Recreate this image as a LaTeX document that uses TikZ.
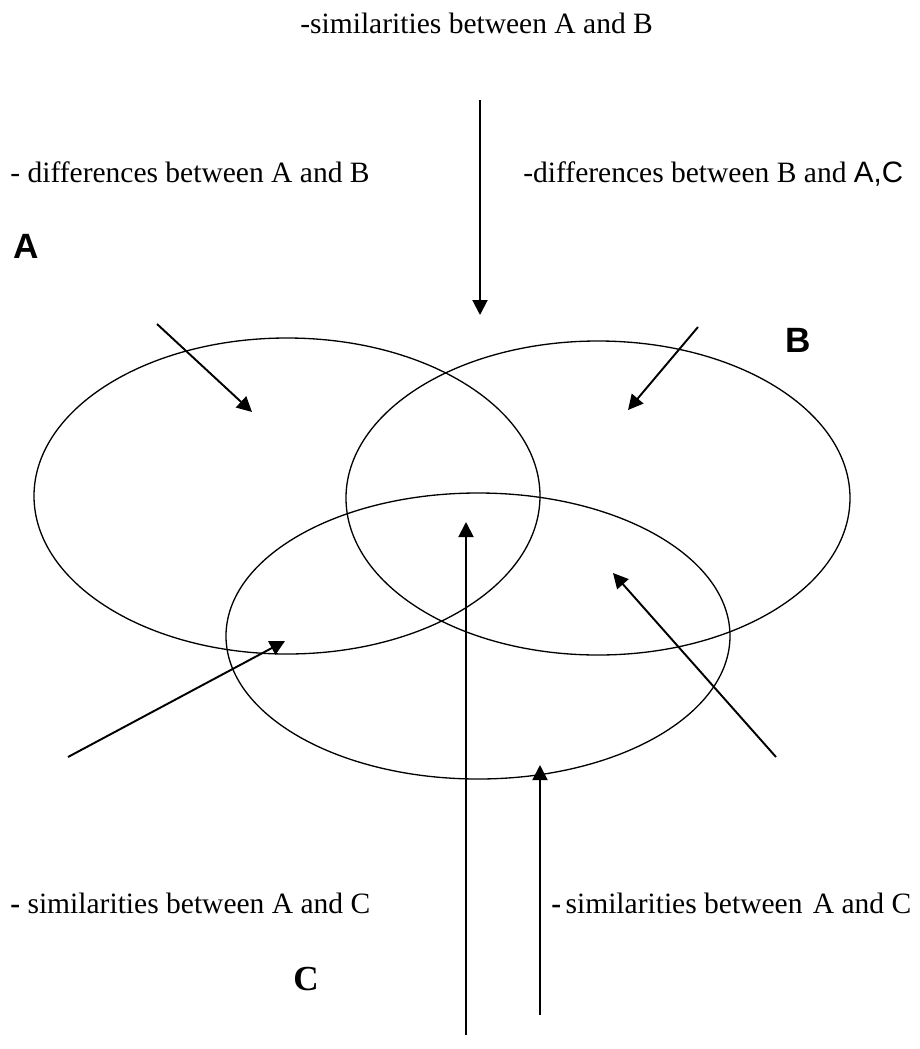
\documentclass[tikz,border=0pt]{standalone}
\usepackage{fontspec}
\setmainfont{Liberation Serif}
\newfontfamily\sansfont{Liberation Sans}
\usetikzlibrary{arrows.meta}
\tikzset{
  >={Triangle[length=3mm,width=3mm]},
  ar/.style={->,line width=1.1pt},
  ring/.style={line width=0.75pt},
  lbl/.style={anchor=base west,inner sep=0pt,font=\fontsize{16.8}{20}\selectfont},
  big/.style={anchor=base west,inner sep=0pt,font=\fontsize{20}{24}\selectfont\sansfont\bfseries},
}
\begin{document}
\begin{tikzpicture}[x=0.02cm,y=-0.02cm]
\useasboundingbox (0,0) rectangle (920,1049);
% circles
\draw[ring] (287,496) ellipse [x radius=253, y radius=158];
\draw[ring] (598,498) ellipse [x radius=252, y radius=157];
\draw[ring] (478,636) ellipse [x radius=252, y radius=143];
% labels
\node[lbl] (simab) at (300,33) {-similarities between A and B};
\node[lbl] (difab) at (10,182) {- differences between A and B};
\node[lbl] (difbac) at (523,182) {-differences between B and {\sansfont A,C}};
\node[lbl] (simac1) at (10,913) {{\bfseries -} similarities between A and C};
\node[lbl] (simac2) at (551,913) {{\bfseries -}\hspace{-0.1em} similarities between\hspace{0.1em} A and C};
\node[big] (la) at (13,258) {A};
\node[big] (lb) at (785,352) {B};
\node[lbl,font=\fontsize{20}{24}\selectfont\bfseries] (lc) at (293,990) {C};
% arrow ends
\coordinate (s1) at (480,100); \coordinate (e1) at (480,315);
\coordinate (s2) at (157,324); \coordinate (e2) at (252,412);
\coordinate (s3) at (698,327); \coordinate (e3) at (628,410);
\coordinate (s4) at (68,757);  \coordinate (e4) at (285,641);
\coordinate (s5) at (776,757); \coordinate (e5) at (613,573);
\coordinate (s6) at (466,1035); \coordinate (e6) at (466,522);
\coordinate (s7) at (540,1015); \coordinate (e7) at (540,765);
\foreach \i in {1,...,7} \draw[ar] (s\i) -- (e\i);
\end{tikzpicture}
\end{document}
